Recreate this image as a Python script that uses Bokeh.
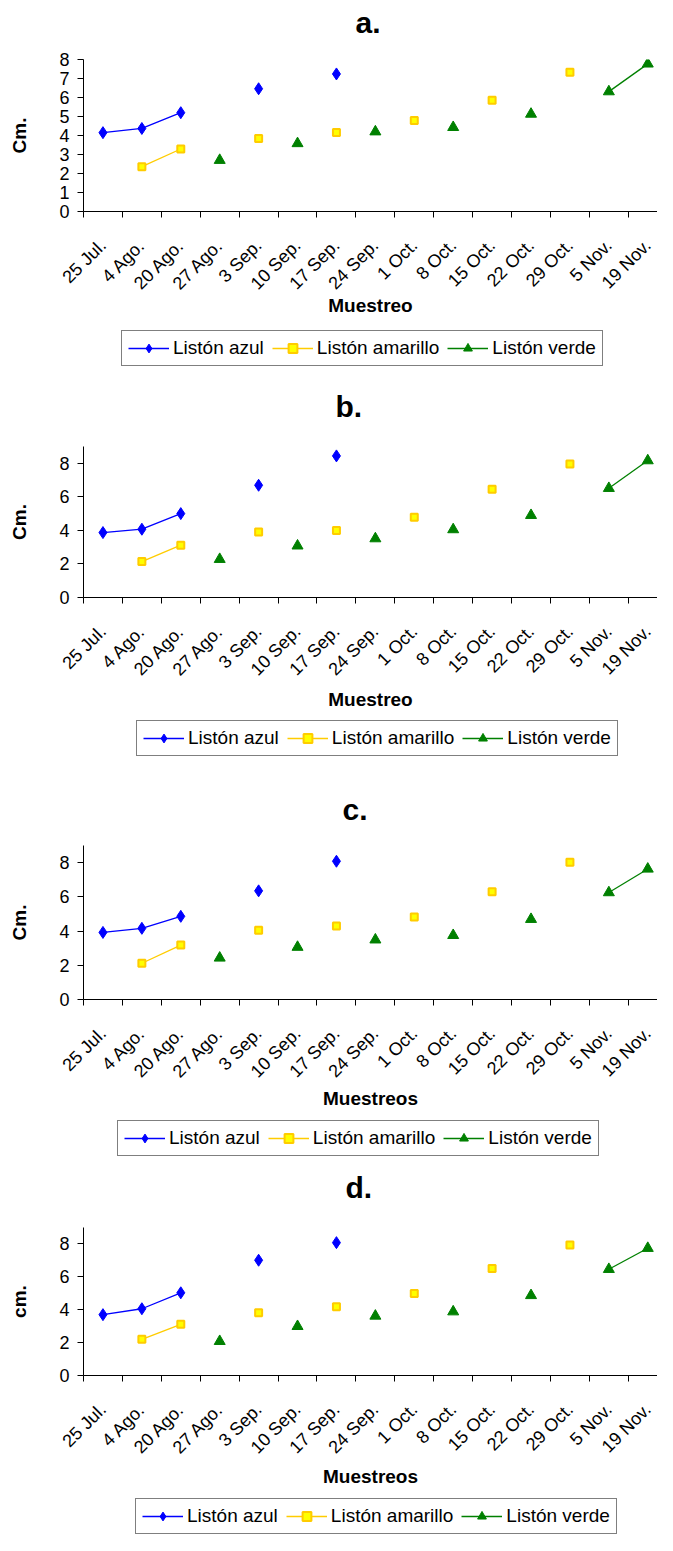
import math
import numpy as np
from bokeh.plotting import figure
from bokeh.models import Range1d, FixedTicker, Legend, LegendItem, ColumnDataSource
from bokeh.layouts import column
from bokeh.embed import file_html
from bokeh.resources import INLINE

nan = float("nan")

fechas = ["25 Jul.", "4 Ago.", "20 Ago.", "27 Ago.", "3 Sep.", "10 Sep.", "17 Sep.",
          "24 Sep.", "1 Oct.", "8 Oct.", "15 Oct.", "22 Oct.", "29 Oct.", "5 Nov.", "19 Nov."]

titulos = ["a.", "b.", "c.", "d."]
ejes_x = ["Muestreo", "Muestreo", "Muestreos", "Muestreos"]
ejes_y = ["Cm.", "Cm.", "Cm.", "cm."]
series = ["Listón azul", "Listón amarillo", "Listón verde"]

# panel a
azul_a = [4.15, 4.37, 5.20, nan, 6.46, nan, 7.24, nan, nan, nan, nan, nan, nan, nan, nan]
amarillo_a = [nan, 2.36, 3.29, nan, 3.84, nan, 4.16, nan, 4.79, nan, 5.86, nan, 7.33, nan, nan]
verde_a = [nan, nan, nan, 2.70, nan, 3.58, nan, 4.20, nan, 4.43, nan, 5.13, nan, 6.31, 7.77]
# panel b
azul_b = [3.87, 4.07, 5.00, nan, 6.69, nan, 8.44, nan, nan, nan, nan, nan, nan, nan, nan]
amarillo_b = [nan, 2.14, 3.12, nan, 3.91, nan, 3.99, nan, 4.78, nan, 6.45, nan, 7.96, nan, nan]
verde_b = [nan, nan, nan, 2.28, nan, 3.08, nan, 3.51, nan, 4.05, nan, 4.90, nan, 6.51, 8.16]
# panel c
azul_c = [3.92, 4.16, 4.86, nan, 6.35, nan, 8.08, nan, nan, nan, nan, nan, nan, nan, nan]
amarillo_c = [nan, 2.12, 3.18, nan, 4.04, nan, 4.29, nan, 4.82, nan, 6.29, nan, 8.02, nan, nan]
verde_c = [nan, nan, nan, 2.43, nan, 3.06, nan, 3.49, nan, 3.75, nan, 4.69, nan, 6.25, 7.63]
# panel d
azul_d = [3.70, 4.06, 5.03, nan, 7.01, nan, 8.08, nan, nan, nan, nan, nan, nan, nan, nan]
amarillo_d = [nan, 2.20, 3.11, nan, 3.82, nan, 4.18, nan, 4.99, nan, 6.50, nan, 7.94, nan, nan]
verde_d = [nan, nan, nan, 2.08, nan, 2.99, nan, 3.62, nan, 3.88, nan, 4.87, nan, 6.46, 7.74]

datos = [(azul_a, amarillo_a, verde_a), (azul_b, amarillo_b, verde_b),
         (azul_c, amarillo_c, verde_c), (azul_d, amarillo_d, verde_d)]
y_max = [8, 9, 9, 9]
y_paso = [1, 2, 2, 2]

FONT = "Liberation Sans"
W = 657
LEFT = 83
TOP = 12
BOTTOM = 115
AZUL = dict(color="#0000FF", marker="diamond")
AMAR = dict(color="#FFCC00", fill="#FFFF00", marker="square")
VERDE = dict(color="#008000", marker="triangle")

# per panel layout: title fig height, title standoff, title x offset, frame height,
# x-axis label standoff, legend fig height, legend top, legend left
layout = [
    dict(th=47, ts=10, tx=272, fh=152, xls=-9, lh=63, lt=6, lx=38),
    dict(th=45, ts=0, tx=252, fh=151, xls=-1, lh=80, lt=10, lx=53),
    dict(th=41, ts=0, tx=259, fh=154, xls=-4, lh=56, lt=8, lx=34),
    dict(th=45, ts=0, tx=262, fh=148, xls=-2, lh=45, lt=10, lx=52),
]


def add_series(p, src):
    l1 = p.line("x", "az", source=src, line_color=AZUL["color"], line_width=1.3)
    m1 = p.scatter("x", "az", source=src, marker=AZUL["marker"], size=12,
                   fill_color=AZUL["color"], line_color=AZUL["color"], line_width=1)
    l2 = p.line("x", "am", source=src, line_color=AMAR["color"], line_width=1.3)
    m2 = p.scatter("x", "am", source=src, marker=AMAR["marker"], size=7,
                   fill_color=AMAR["fill"], line_color=AMAR["color"], line_width=2)
    l3 = p.line("x", "ve", source=src, line_color=VERDE["color"], line_width=1.3)
    m3 = p.scatter("x", "ve", source=src, marker=VERDE["marker"], size=11,
                   fill_color=VERDE["color"], line_color=VERDE["color"], line_width=1)
    return [(l1, m1), (l2, m2), (l3, m3)]


items = []
for k in range(4):
    L = layout[k]
    xs = np.arange(1, len(fechas) + 1, dtype=float)
    az, am, ve = datos[k]
    src = ColumnDataSource(dict(x=xs, az=np.array(az, dtype=float),
                                am=np.array(am, dtype=float), ve=np.array(ve, dtype=float)))

    # ---- title figure
    t = figure(width=W, height=L["th"], output_backend="svg", toolbar_location=None,
               x_axis_type=None, y_axis_type=None, x_range=Range1d(0, 1), y_range=Range1d(0, 1),
               min_border=0)
    t.outline_line_color = None
    t.grid.visible = False
    t.title.text = titulos[k]
    t.title.text_font = FONT
    t.title.text_font_size = "30px"
    t.title.text_font_style = "bold"
    t.title.text_color = "black"
    t.title.align = "left"
    t.title.offset = L["tx"]
    t.title.vertical_align = "top"
    t.title.standoff = L["ts"]
    items.append(t)

    # ---- chart figure
    H = TOP + L["fh"] + BOTTOM
    p = figure(width=W, height=H, output_backend="svg", toolbar_location=None,
               x_range=Range1d(0.5, 15.25), y_range=Range1d(0, y_max[k]),
               min_border_left=LEFT, min_border_right=0, min_border_top=TOP,
               min_border_bottom=BOTTOM)
    p.outline_line_color = None
    p.grid.visible = False
    add_series(p, src)

    xa = p.xaxis[0]
    xa.ticker = FixedTicker(ticks=list(xs), minor_ticks=[i + 0.5 for i in range(len(fechas) + 1)])
    xa.major_label_overrides = {int(x): f for x, f in zip(xs, fechas)}
    xa.major_label_orientation = math.pi / 4
    xa.major_tick_out = 0
    xa.major_tick_in = 0
    xa.minor_tick_out = 6
    xa.minor_tick_in = 0
    xa.minor_tick_line_color = "black"
    xa.axis_line_color = "black"
    xa.major_label_text_font = FONT
    xa.major_label_text_font_size = "18px"
    xa.major_label_text_color = "black"
    xa.major_label_standoff = 25
    xa.axis_label = ejes_x[k]
    xa.axis_label_text_font = FONT
    xa.axis_label_text_font_size = "19px"
    xa.axis_label_text_font_style = "bold"
    xa.axis_label_text_color = "black"
    xa.axis_label_standoff = L["xls"]

    ya = p.yaxis[0]
    ya.ticker = FixedTicker(ticks=list(range(0, y_max[k] + 1, y_paso[k])))
    ya.major_tick_out = 6
    ya.major_tick_in = 0
    ya.minor_tick_out = 0
    ya.minor_tick_in = 0
    ya.axis_line_color = "black"
    ya.major_label_text_font = FONT
    ya.major_label_text_font_size = "18px"
    ya.major_label_text_color = "black"
    ya.major_label_standoff = 8
    ya.axis_label = ejes_y[k]
    ya.axis_label_text_font = FONT
    ya.axis_label_text_font_size = "19px"
    ya.axis_label_text_font_style = "bold"
    ya.axis_label_text_color = "black"
    ya.axis_label_standoff = 26
    items.append(p)

    # ---- legend figure: same series, data kept out of view so only the keys show
    g = figure(width=W, height=L["lh"], output_backend="svg", toolbar_location=None,
               x_axis_type=None, y_axis_type=None, x_range=Range1d(0.5, 15.25),
               y_range=Range1d(-20, -10), min_border=0)
    g.outline_line_color = None
    g.grid.visible = False
    rends = add_series(g, src)
    legend = Legend(items=[LegendItem(label=series[i], renderers=list(rends[i])) for i in range(3)],
                    orientation="horizontal",
                    location=(L["lx"], L["lh"] - L["lt"] - 34),
                    label_text_font=FONT, label_text_font_size="19px",
                    label_text_color="black",
                    glyph_width=41, glyph_height=22, label_height=22,
                    label_standoff=4, spacing=8, padding=6, margin=0,
                    border_line_color="black", border_line_width=1,
                    background_fill_color="white", background_fill_alpha=1.0)
    g.add_layout(legend, "center")
    items.append(g)

page = column(*items, spacing=0)
open("out.html", "w").write(file_html(page, INLINE))
